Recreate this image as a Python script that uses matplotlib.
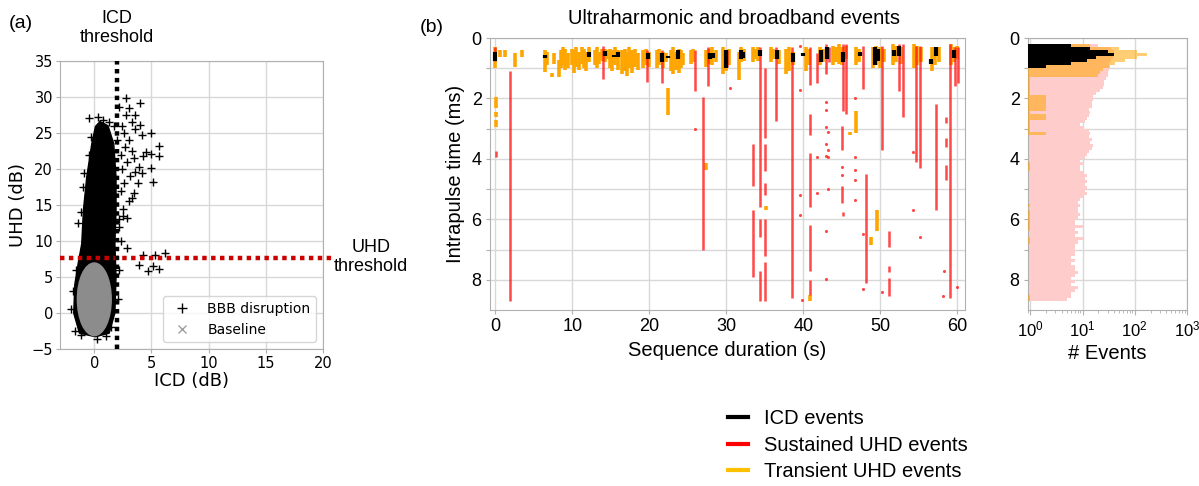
import numpy as np
import matplotlib
matplotlib.use('Agg')
import matplotlib.pyplot as plt
from matplotlib.patches import Ellipse, Polygon
from matplotlib.lines import Line2D

# ---------------- panel (a) : UHD vs ICD ----------------
icd_threshold = 2.0
uhd_threshold = 7.7

# outline of the dense BBB disruption cloud (ICD dB, UHD dB)
cloud_x = [-1.3, -1.8, -1.7, -1.4, -1.1, -0.95, -0.66, -0.22, 0.1, 0.5, 1.2,
           1.7, 1.9, 1.9, 1.8, 1.9, 1.8, 1.3, 0.1]
cloud_y = [-2.8, 0.0, 4.0, 7.0, 9.6, 14.3, 18.9, 23.5, 25.9, 26.6, 26.0,
           23.5, 18.9, 14.3, 9.6, 5.0, 0.0, -2.8, -3.3]

# individual BBB disruption points around / outside the cloud
bbb_x = [-0.5, 0.3, 0.8, 1.3, 1.7, -1.2, -1.4, -1.0, -0.9, -0.5, -0.3, -1.6,
         -1.9, -2.0, -1.7, -1.2, 0.2, 1.0, 1.5, 2.1, 2.2, 2.3, 2.2, 2.5,
         2.75, 4.0, 3.56, 4.0, 5.0, 4.2, 5.66, 5.66, 4.96, 4.25, 5.0, 5.1,
         4.15, 3.56, 3.3, 2.83, 2.83, 4.25, 5.3, 6.2, 3.9, 4.7, 5.1, 5.7,
         2.4, 2.6, 3.0, 2.7, 3.3, 2.9, 3.5, 2.4, 3.1, 2.6, 3.8, 2.3, 3.0,
         2.5, 2.2, 3.5, 2.8, 3.3, 3.6, 3.0, 2.2, 2.0, 2.3, 4.5, 3.9]
bbb_y = [27.1, 27.2, 26.8, 26.5, 26.0, 14.0, 12.5, 17.5, 19.5, 22.0, 24.5,
         6.0, 3.0, 0.5, -2.5, -3.0, -3.6, -3.2, -2.0, 2.0, 6.0, 10.0, 12.0,
         13.5, 29.8, 29.1, 27.5, 26.1, 25.0, 24.7, 23.2, 21.8, 22.1, 21.8,
         20.1, 18.2, 19.4, 19.6, 16.0, 13.2, 9.0, 8.1, 8.1, 8.4, 6.7, 5.9,
         6.5, 6.1, 26.0, 25.0, 24.0, 23.0, 22.5, 21.0, 21.5, 20.0, 19.0,
         18.0, 18.0, 17.0, 15.5, 14.5, 13.0, 16.7, 27.5, 26.5, 25.5, 28.5,
         28.6, 24.0, 22.0, 22.3, 20.3]

# baseline cloud (centre and extent, dB)
baseline_centre = (0.0, 1.9)
baseline_width = 2.9
baseline_height = 10.0

# ---------------- panel (b) : events (time s, start ms, end ms) ----------------
icd_events = [(0.0, 0.45, 0.75), (6.5, 0.55, 0.65), (12.2, 0.45, 0.62),
              (14.2, 0.42, 0.58), (15.4, 0.55, 0.62), (15.9, 0.45, 0.62),
              (19.8, 0.5, 0.68), (21.6, 0.5, 0.8), (22.4, 0.6, 0.66),
              (23.7, 0.4, 0.7), (27.9, 0.5, 0.7), (28.3, 0.5, 0.65),
              (30.0, 0.4, 1.0), (31.9, 0.4, 0.7), (32.1, 0.45, 0.65),
              (34.4, 0.4, 0.6), (36.6, 0.4, 0.7), (38.6, 0.5, 0.8),
              (40.0, 0.5, 0.6), (42.3, 0.4, 0.8), (43.1, 0.3, 0.7),
              (45.2, 0.45, 0.8), (47.3, 0.45, 0.6), (49.3, 0.3, 0.9),
              (49.7, 0.35, 0.75), (51.8, 0.4, 0.6), (52.4, 0.25, 0.6),
              (56.6, 0.7, 0.85), (57.2, 0.3, 0.6), (59.6, 0.4, 0.65)]

sustained_events = [(0.0, 0.3, 0.75), (0.05, 3.75, 3.95), (1.95, 1.1, 8.7),
                    (14.0, 0.25, 1.35), (19.7, 0.4, 1.45), (21.6, 0.4, 1.5),
                    (25.9, 0.4, 1.77), (27.0, 1.94, 7.02), (27.6, 0.3, 1.6),
                    (30.1, 0.4, 0.95), (33.5, 3.5, 4.9), (33.5, 5.7, 7.9),
                    (34.4, 0.3, 5.6), (34.4, 6.0, 6.6), (34.4, 7.7, 8.7),
                    (35.0, 1.0, 3.3), (35.0, 3.5, 4.4), (35.0, 4.8, 5.2),
                    (35.0, 6.0, 7.2), (35.0, 7.4, 8.7), (36.5, 0.3, 2.75),
                    (38.5, 0.3, 8.6), (40.9, 0.3, 1.55), (40.9, 2.5, 3.2),
                    (40.9, 3.8, 5.6), (40.9, 6.2, 7.7), (40.9, 8.0, 8.5),
                    (41.8, 0.5, 1.5), (42.9, 0.2, 1.2), (43.3, 0.3, 0.8),
                    (45.2, 0.2, 2.4), (45.6, 0.2, 2.5), (45.0, 2.9, 3.7),
                    (45.0, 4.9, 5.45), (45.2, 5.75, 5.9), (47.8, 0.25, 1.7),
                    (48.1, 4.5, 8.1), (50.2, 0.25, 3.7), (51.1, 6.4, 6.9),
                    (51.1, 7.55, 7.75), (51.1, 7.95, 8.55), (52.4, 0.2, 1.75),
                    (52.9, 0.2, 2.6), (54.7, 0.25, 4.1), (55.1, 0.25, 4.3),
                    (57.2, 2.2, 5.7), (58.5, 2.6, 2.8), (58.5, 3.3, 3.6),
                    (58.5, 4.2, 4.7), (59.0, 0.2, 8.6), (59.7, 0.3, 1.6),
                    (60.1, 0.3, 1.5)]

# isolated sustained UHD detections (time s, ms)
sustained_dots = [(25.9, 3.0), (30.5, 1.67), (39.6, 0.26), (39.6, 1.72),
                  (39.6, 5.2), (39.6, 5.86), (39.8, 8.68), (41.8, 3.93),
                  (41.8, 5.14), (42.9, 2.11), (42.9, 2.38), (42.9, 2.94),
                  (42.9, 3.5), (42.9, 3.9), (42.9, 6.4), (42.9, 7.96),
                  (43.2, 3.1), (43.2, 3.7), (43.2, 3.95), (43.2, 4.98),
                  (45.0, 4.26), (45.0, 4.54), (46.7, 2.0), (46.7, 3.93),
                  (46.7, 4.37), (46.7, 4.7), (46.7, 5.36), (47.7, 6.47),
                  (47.7, 8.29), (50.2, 8.4), (54.3, 3.76), (54.3, 5.7),
                  (55.1, 6.6), (58.3, 7.7), (58.2, 8.55), (60.0, 8.23)]

transient_events = [(0.0, 0.3, 1.0), (0.1, 1.95, 2.3), (0.1, 2.45, 2.6),
                    (0.1, 2.7, 2.95), (0.65, 0.4, 0.62), (1.3, 0.4, 0.62),
                    (2.55, 0.48, 0.95), (3.4, 0.4, 0.62),
                    (6.5, 0.4, 1.12), (6.7, 0.45, 0.9), (7.3, 1.17, 1.28),
                    (7.6, 0.5, 0.85), (8.2, 0.73, 1.28),
                    (8.5, 0.4, 1.0), (8.8, 0.3, 0.9), (9.1, 0.35, 1.05),
                    (9.4, 0.5, 1.0), (9.9, 0.35, 0.9), (10.2, 0.4, 1.17),
                    (10.5, 0.3, 0.95), (10.8, 0.45, 1.05), (11.2, 0.3, 0.85),
                    (11.5, 0.35, 1.0), (11.8, 0.45, 1.1), (12.1, 0.3, 0.8),
                    (12.9, 0.4, 0.9), (13.2, 0.3, 1.0), (13.5, 0.45, 0.85),
                    (13.8, 0.35, 0.75), (14.3, 0.35, 0.8), (14.6, 0.4, 0.7),
                    (14.9, 0.35, 1.0), (15.2, 0.4, 1.1), (15.6, 0.3, 0.9),
                    (15.9, 0.4, 1.05),
                    (16.5, 0.4, 1.2), (16.8, 0.35, 1.1), (17.1, 0.45, 1.25),
                    (17.4, 0.3, 1.0), (17.8, 0.4, 1.15), (18.1, 0.35, 0.95),
                    (18.5, 0.5, 1.05),
                    (19.2, 0.4, 1.0), (19.5, 0.35, 0.9), (19.9, 0.45, 0.95),
                    (21.0, 0.4, 1.0), (21.3, 0.35, 0.9), (21.8, 0.45, 1.0),
                    (22.1, 0.5, 0.8), (22.4, 1.65, 2.55),
                    (22.8, 0.4, 1.1), (23.1, 0.3, 1.2), (23.4, 0.45, 1.05),
                    (23.8, 0.35, 1.15), (24.1, 0.4, 1.0), (24.4, 0.5, 0.9),
                    (25.4, 0.4, 0.85), (25.7, 0.35, 0.8),
                    (27.3, 0.4, 0.95), (27.3, 4.15, 4.37), (27.7, 0.35, 0.85),
                    (28.2, 0.3, 0.9), (28.6, 0.4, 0.8),
                    (29.6, 0.3, 1.2), (29.9, 0.4, 1.1), (30.3, 0.35, 0.9),
                    (31.6, 0.45, 1.4), (31.9, 0.3, 0.8), (32.3, 0.35, 0.75),
                    (33.5, 0.3, 0.8), (33.8, 0.35, 0.7), (34.1, 0.3, 0.75),
                    (35.1, 5.55, 5.7),
                    (35.8, 0.3, 0.8), (36.1, 0.35, 0.7), (36.8, 0.4, 0.85),
                    (37.8, 0.35, 1.2), (38.1, 0.3, 1.1), (38.7, 0.45, 0.9),
                    (40.4, 0.3, 1.1), (40.8, 0.35, 0.9), (40.9, 8.5, 8.7),
                    (42.2, 0.3, 0.9), (42.6, 0.35, 0.8),
                    (43.8, 0.25, 0.9), (44.2, 0.3, 0.8), (44.6, 0.2, 0.85),
                    (45.0, 0.3, 0.9), (45.5, 0.25, 0.7),
                    (46.1, 3.1, 3.2), (46.9, 2.4, 3.15),
                    (46.8, 0.3, 0.9), (47.2, 0.35, 0.8),
                    (48.8, 6.6, 6.85), (49.6, 5.7, 6.4),
                    (49.0, 0.3, 1.0), (49.4, 0.25, 0.9), (49.9, 0.3, 1.0),
                    (50.5, 0.35, 0.8),
                    (51.7, 0.2, 0.9), (52.1, 0.25, 0.8), (52.7, 0.3, 0.85),
                    (54.4, 0.2, 1.0), (54.8, 0.25, 0.9), (55.3, 0.3, 0.8),
                    (56.7, 0.3, 1.1), (57.1, 0.35, 0.9), (57.6, 0.3, 0.8),
                    (59.2, 0.2, 0.9), (59.6, 0.3, 0.8), (60.0, 0.25, 0.7)]

# ---------------- histogram : events per 0.1 ms bin (0 .. 9 ms) ----------------
bin_width = 0.1
sustained_counts = [0, 0, 20, 35, 40, 40, 38, 35, 32, 32,
                    32, 30, 30, 28, 26, 26, 25, 22, 18, 16,
                    16, 15, 15, 13, 14, 13, 12, 11, 9, 10,
                    13, 14, 13, 15, 14, 16, 15, 13, 12, 11,
                    9, 10, 9, 9, 10, 12, 11, 12, 11, 12,
                    11, 12, 10, 9, 8, 9, 8, 8, 9, 8,
                    7, 7, 10, 7, 8, 7, 10, 8, 7, 7,
                    7, 7, 6, 7, 6, 7, 7, 8, 7, 6,
                    7, 6, 8, 7, 6, 6, 5, 0, 0, 0]
transient_counts = [0, 0, 14, 50, 110, 170, 110, 65, 42, 33,
                    25, 22, 20, 1, 1, 1, 1, 1, 1, 2,
                    2, 2, 2, 2, 1, 2, 2, 1, 1, 1,
                    1, 2, 0, 0, 0, 0, 0, 0, 0, 0,
                    0, 1, 1, 1, 0, 0, 0, 0, 0, 0,
                    0, 0, 0, 0, 0, 1, 0, 1, 1, 1,
                    1, 1, 1, 1, 0, 0, 1, 1, 0, 0,
                    0, 0, 0, 0, 0, 0, 0, 0, 0, 0,
                    0, 0, 0, 0, 0, 1, 1, 0, 0, 0]
icd_counts = [0, 0, 6, 14, 30, 40, 18, 12, 6, 2] + [0] * 80

# ---------------- figure ----------------
plt.rcParams['font.family'] = ['Liberation Sans', 'DejaVu Sans']
W, H = 1199, 486
fig = plt.figure(figsize=(W / 100, H / 100), dpi=100)

grid_col = '#d8d8d8'
spine_col = '#b0b0b0'
red = '#ff1a1a'
orange = '#ffa500'


def style_axes(ax):
    ax.grid(True, color=grid_col, lw=1)
    ax.set_axisbelow(True)
    for sp in ax.spines.values():
        sp.set_color(spine_col)


# ---- panel (a)
ax_a = fig.add_axes([60 / W, 1 - 349 / H, 263 / W, 288 / H])
style_axes(ax_a)
ax_a.add_patch(Polygon(np.column_stack([cloud_x, cloud_y]), closed=True,
                       fc='black', ec='black', lw=1, zorder=2))
ax_a.scatter(bbb_x, bbb_y, marker='+', s=40, c='black', lw=1, zorder=2)
ax_a.add_patch(Ellipse(baseline_centre, baseline_width, baseline_height,
                       fc='#8c8c8c', ec='#8c8c8c', lw=1.5, zorder=3))
ax_a.plot([-3, 20.9], [uhd_threshold, uhd_threshold], color='#cc0000', lw=3.2,
          ls=(0, (1, 1)), clip_on=False, zorder=4)
ax_a.plot([icd_threshold, icd_threshold], [-5, 35], color='black', lw=3.2,
          ls=(0, (1, 1)), zorder=5)
ax_a.set_xlim(-3, 20)
ax_a.set_ylim(-5, 35)
ax_a.set_xticks([0, 5, 10, 15, 20])
ax_a.set_yticks(range(-5, 36, 5))
ax_a.tick_params(labelsize=10.5, length=3, pad=2, color=spine_col)
plt.setp(ax_a.get_xticklabels() + ax_a.get_yticklabels(), family='DejaVu Sans')
ax_a.set_xlabel('ICD (dB)', family='DejaVu Sans', fontsize=13, labelpad=1)
ax_a.set_ylabel('UHD (dB)', family='DejaVu Sans', fontsize=13, labelpad=3)
leg_handles = [Line2D([], [], ls='none', marker='+', color='black', ms=7),
               Line2D([], [], ls='none', marker='x', color='#a0a0a0', ms=6)]
ax_a.legend(leg_handles, ['BBB disruption', 'Baseline'], loc='lower right',
            prop={'family': 'DejaVu Sans', 'size': 10})

fig.text(21 / W, 1 - 23 / H, '(a)', fontsize=14, ha='center', va='center')
fig.text(117 / W, 1 - 28 / H, 'ICD\nthreshold', fontsize=13, ha='center',
         va='center', linespacing=1.15)
fig.text(371 / W, 1 - 257 / H, 'UHD\nthreshold', fontsize=13, ha='center',
         va='center', linespacing=1.15)

# ---- panel (b)
ax_b = fig.add_axes([490 / W, 1 - 310 / H, 475 / W, 272 / H])
style_axes(ax_b)
t, y0, y1 = zip(*transient_events)
ax_b.vlines(t, y0, y1, color=orange, lw=2.6, zorder=2)
t, y0, y1 = zip(*sustained_events)
ax_b.vlines(t, y0, y1, color=red, lw=1.8, alpha=0.8, zorder=3)
t, y = zip(*sustained_dots)
ax_b.scatter(t, y, s=5, color=red, alpha=0.8, lw=0, zorder=3)
t, y0, y1 = zip(*icd_events)
ax_b.vlines(t, y0, y1, color='black', lw=3, zorder=4)
ax_b.set_xlim(-0.7, 61)
ax_b.set_ylim(9, 0)
ax_b.set_xticks(range(0, 61, 10))
ax_b.set_yticks(range(0, 9))
ax_b.set_yticklabels([str(v) if v % 2 == 0 else '' for v in range(0, 9)])
ax_b.tick_params(labelsize=13, length=3, pad=3, color=spine_col)
ax_b.set_xlabel('Sequence duration (s)', fontsize=14.5, labelpad=4)
ax_b.set_ylabel('Intrapulse time (ms)', fontsize=14.5, labelpad=5)
fig.text(734 / W, 1 - 18 / H, 'Ultraharmonic and broadband events',
         fontsize=14.5, ha='center', va='center')
fig.text(432 / W, 1 - 27 / H, '(b)', fontsize=14, ha='center', va='center')

# ---- histogram
ax_h = fig.add_axes([1028 / W, 1 - 310 / H, 159 / W, 272 / H])
style_axes(ax_h)
ax_h.set_xscale('log')
centres = np.arange(len(sustained_counts)) * bin_width + bin_width / 2
for counts, col, alpha, z in [(sustained_counts, '#ffcccc', 1.0, 2),
                              (transient_counts, orange, 0.55, 3),
                              (icd_counts, 'black', 1.0, 4)]:
    counts = np.asarray(counts, dtype=float)
    keep = counts > 0
    ax_h.barh(centres[keep], counts[keep] - 0.1, left=0.1, height=bin_width,
              color=col, alpha=alpha, lw=0, zorder=z)
ax_h.set_xlim(0.9, 1000)
ax_h.set_ylim(9, 0)
ax_h.set_xticks([1, 10, 100, 1000])
ax_h.set_yticks(range(0, 9))
ax_h.set_yticklabels([str(v) if v % 2 == 0 else '' for v in range(0, 9)])
ax_h.tick_params(axis='y', labelsize=13, length=3, pad=3, color=spine_col)
ax_h.tick_params(axis='x', which='both', labelsize=12, pad=3, color=spine_col)
ax_h.set_xlabel('# Events', fontsize=14.5, labelpad=4)

# ---- shared legend below panel (b)
ev_handles = [Line2D([], [], color='black', lw=3),
              Line2D([], [], color='#ff0000', lw=3),
              Line2D([], [], color='#ffc000', lw=3)]
fig.legend(ev_handles, ['ICD events', 'Sustained UHD events', 'Transient UHD events'],
           loc='upper left', bbox_to_anchor=(710 / W, 1 - 391 / H), frameon=False,
           fontsize=14.5, handlelength=1.0, handletextpad=0.8, labelspacing=0.38)

fig.savefig('out.png', dpi=100)
